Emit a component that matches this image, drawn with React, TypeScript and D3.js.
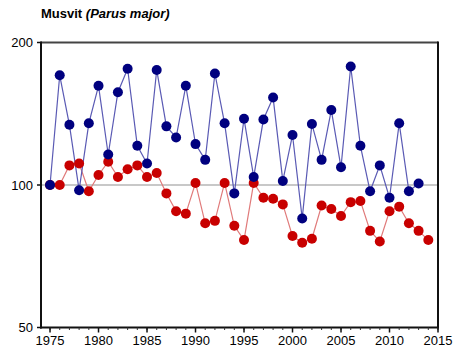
import React from "react";
import * as d3 from "d3";

const years = d3.range(1975, 2015); // used for mapping below
const blueYears = [1975,1976,1977,1978,1979,1980,1981,1982,1983,1984,1985,1986,1987,1988,1989,1990,1991,1992,1993,1994,1995,1996,1997,1998,1999,2000,2001,2002,2003,2004,2005,2006,2007,2008,2009,2010,2011,2012,2013];
const blueValues = [100,170.5,134,97.5,135,162,116,157,176,121,111,175,133,126,162,122,113,172,135,96,138,104,137.5,153,102,127.5,85,134.5,113,144,109,178,121,97,110,94,135,97,100.7];
const redYears = [1975,1976,1977,1978,1979,1980,1981,1982,1983,1984,1985,1986,1987,1988,1989,1990,1991,1992,1993,1994,1995,1996,1997,1998,1999,2000,2001,2002,2003,2004,2005,2006,2007,2008,2009,2010,2011,2012,2013,2014];
const redValues = [100,100,110,111,97,105,112,104,108,110,104,106,96,88,87,101,83,84,101,82,76.5,101,94,93.5,91,78,75.5,77,90.5,89,86,92,92.5,80,76,88,90,83,80,76.5];
const yTicks = [50, 100, 200];
const xTicks = [1975, 1980, 1985, 1990, 1995, 2000, 2005, 2010, 2015];
const minorTicks = d3.range(1975, 2016);

const W = 454, H = 361;
const FONT = "'Liberation Sans', Arial, sans-serif";

export default function App() {
  const x = d3.scaleLinear().domain([1974.07, 2015]).range([41, 438]);
  const y = d3.scaleLog().domain([50, 200]).range([327.5, 42.5]);
  const [x0, x1] = x.range();
  const [yb, yt] = y.range();

  const blue = blueYears.map((yr, i) => [yr, blueValues[i]] as [number, number]);
  const red = redYears.map((yr, i) => [yr, redValues[i]] as [number, number]);
  const line = d3.line<[number, number]>().x(d => x(d[0])).y(d => y(d[1]));

  return (
    <svg width={W} height={H} style={{ position: "absolute", left: 0, top: 0, background: "#fff" }} fontFamily={FONT}>
      <text x={41} y={18} fontSize={13} fontWeight="bold" fill="#000">
        Musvit <tspan fontStyle="italic">(Parus major)</tspan>
      </text>
      {/* reference line at 100 */}
      <line x1={x0} x2={x1} y1={y(100)} y2={y(100)} stroke="#c8c8c8" strokeWidth={2} />
      {/* lines */}
      <path d={line(red) || ""} fill="none" stroke="#e07a7a" strokeWidth={1.2} />
      <path d={line(blue) || ""} fill="none" stroke="#5a5ab4" strokeWidth={1.2} />
      {red.map((d, i) => (
        <circle key={"r" + i} cx={x(d[0])} cy={y(d[1])} r={5} fill="#c80000" />
      ))}
      {blue.map((d, i) => (
        <circle key={"b" + i} cx={x(d[0])} cy={y(d[1])} r={5} fill="#00007f" />
      ))}
      {/* frame */}
      <line x1={x0} x2={x1} y1={yt} y2={yt} stroke="#444" strokeWidth={2} />
      <line x1={x1} x2={x1} y1={yt - 1} y2={yb} stroke="#111" strokeWidth={2} />
      <line x1={x0} x2={x0} y1={yt - 1} y2={yb + 1} stroke="#111" strokeWidth={2} />
      <line x1={x0 - 1} x2={x1 + 1} y1={yb} y2={yb} stroke="#111" strokeWidth={2} />
      {/* y ticks */}
      {yTicks.map(t => (
        <g key={"yt" + t}>
          <line x1={x0 - 4} x2={x0} y1={y(t)} y2={y(t)} stroke="#111" strokeWidth={1.5} />
          <text x={33} y={y(t)} dy="0.35em" textAnchor="end" fontSize={13} fill="#000">{t}</text>
        </g>
      ))}
      {/* minor x ticks */}
      {minorTicks.map(t => (
        <line key={"mt" + t} x1={x(t)} x2={x(t)} y1={yb} y2={yb + 2.5} stroke="#333" strokeWidth={1} />
      ))}
      {xTicks.map(t => (
        <g key={"xt" + t}>
          <line x1={x(t)} x2={x(t)} y1={yb} y2={yb + 5} stroke="#111" strokeWidth={1.5} />
          <text x={x(t)} y={345} textAnchor="middle" fontSize={13} fill="#000">{t}</text>
        </g>
      ))}
    </svg>
  );
}
